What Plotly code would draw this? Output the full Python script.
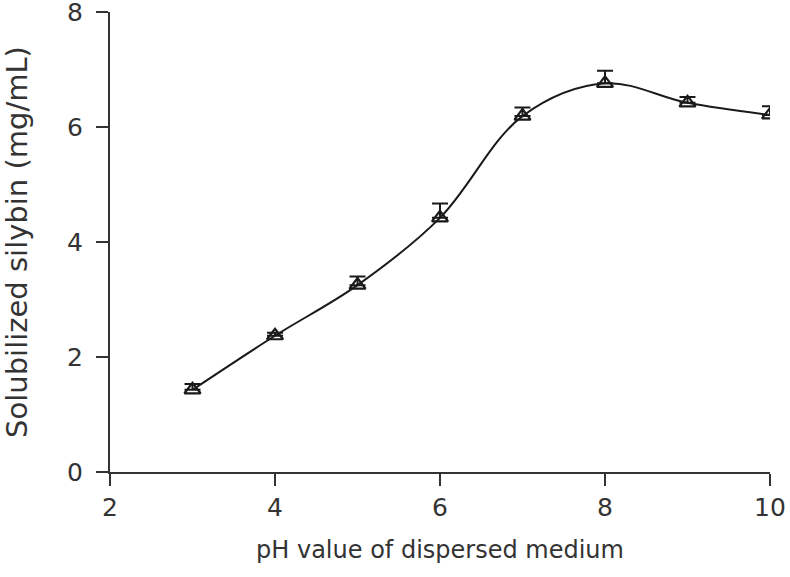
import plotly.graph_objects as go

ph = [3, 4, 5, 6, 7, 8, 9, 10]
silybin = [1.43, 2.37, 3.25, 4.42, 6.19, 6.76, 6.42, 6.21]
err_up = [0.10, 0.05, 0.15, 0.25, 0.15, 0.22, 0.10, 0.15]

fig = go.Figure()
fig.add_trace(go.Scatter(
    x=ph, y=silybin, mode="lines+markers",
    line=dict(color="#1a1a1a", width=2, shape="spline", smoothing=1),
    marker=dict(symbol="triangle-up-open", size=14, color="#1a1a1a",
                line=dict(width=2.2)),
    error_y=dict(type="data", array=err_up, arrayminus=[0]*len(err_up),
                 symmetric=False, color="#1a1a1a", thickness=2, width=8),
    showlegend=False,
))

fig.update_layout(
    width=790, height=577,
    margin=dict(l=110, r=20, t=12, b=105),
    paper_bgcolor="white", plot_bgcolor="white",
    font=dict(family="DejaVu Sans", color="#333333"),
)
fig.update_xaxes(
    range=[2, 10], tickvals=[2, 4, 6, 8, 10], automargin=False,
    showline=True, linecolor="#333333", linewidth=2,
    ticks="outside", ticklen=12, tickwidth=2, tickcolor="#333333",
    tickfont=dict(size=25), showgrid=False, zeroline=False,
    ticklabeloverflow="allow",
    title=dict(text="pH value of dispersed medium", font=dict(size=24), standoff=20),
)
fig.update_yaxes(
    range=[0, 8], tickvals=[0, 2, 4, 6, 8], automargin=False,
    showline=True, linecolor="#333333", linewidth=2,
    ticks="outside", ticklen=12, tickwidth=2, tickcolor="#333333",
    tickfont=dict(size=25), showgrid=False, zeroline=False,
    ticklabeloverflow="allow", ticklabelstandoff=8,
    title=dict(text="Solubilized silybin (mg/mL)", font=dict(size=29), standoff=44),
)

# drop the default 8px body margin so the figure sits at the window corner
fig.write_html("out.html", config={"displayModeBar": False},
               post_script="document.body.style.margin='0';")
